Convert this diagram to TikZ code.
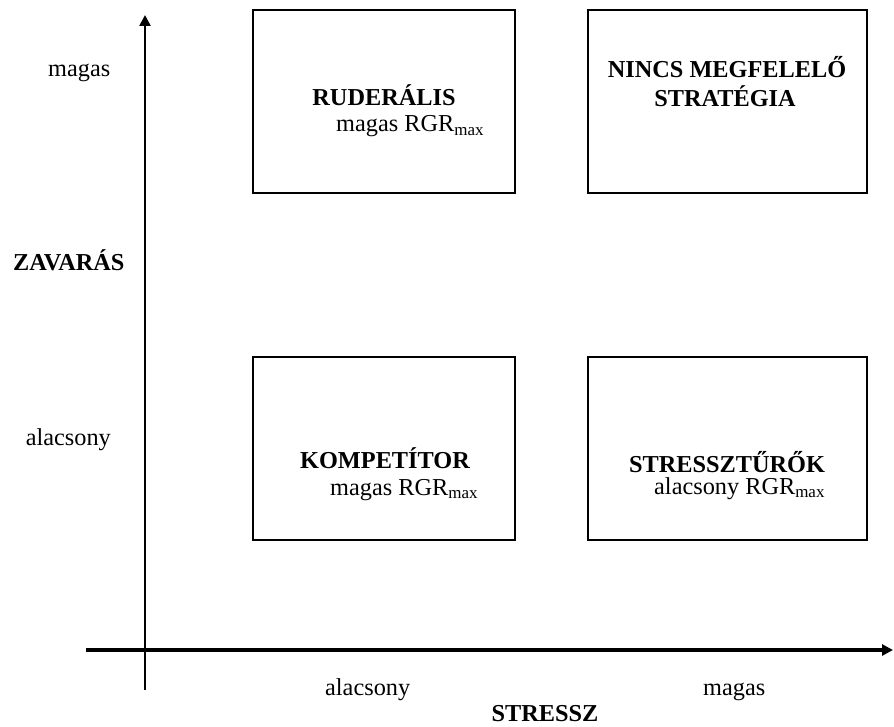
\documentclass[tikz,border=0pt]{standalone}
\usepackage{fontspec}
\setmainfont{Liberation Serif}
\usetikzlibrary{arrows.meta}

\begin{document}
\begin{tikzpicture}[x=1pt,y=-1pt,
  every node/.style={font=\fontsize{24.3}{29}\selectfont,inner sep=0pt},
  quad/.style={rectangle,draw,line width=2pt,minimum width=262pt,minimum height=183pt},
  title/.style={font=\fontsize{24.3}{29}\selectfont\bfseries,anchor=base},
  sub/.style={anchor=base west},
  axis/.style={-{Triangle[length=11pt,width=11pt]}}
]
\useasboundingbox (0,0) rectangle (894,727);
% quadrants
\node[quad] (rud) at (384,101.5) {};
\node[quad,minimum width=279pt] (nin) at (727,101.5) {};
\node[quad] (kom) at (384,448.5) {};
\node[quad,minimum width=279pt] (stt) at (727,448.5) {};
\node[title] (rudt) at (384,106) {RUDERÁLIS};
\node[sub] (rudr) at (336,132) {magas RGR\textsubscript{max}};
\node[title] (nint) at (727,78) {NINCS MEGFELELŐ};
\node[title] (nins) at (725,107) {STRATÉGIA};
\node[title] (komt) at (385,468) {KOMPETÍTOR};
\node[sub] (komr) at (330,495) {magas RGR\textsubscript{max}};
\node[title] (sttt) at (727,472) {STRESSZTŰRŐK};
\node[sub] (sttr) at (654,494) {alacsony RGR\textsubscript{max}};
% axes
\coordinate (y0) at (145,690);
\coordinate (y1) at (145,15);
\coordinate (x0) at (86,650);
\coordinate (x1) at (893,650);
\draw[axis,line width=2.5pt] (y0) -- (y1);
\draw[axis,line width=4pt] (x0) -- (x1);
\node[anchor=base west] (zmag) at (48,77) {magas};
\node[title,anchor=base west] (zav) at (13,271) {ZAVARÁS};
\node[anchor=base east] (zala) at (111,445) {alacsony};
\node[anchor=base west] (sala) at (325,695) {alacsony};
\node[anchor=base west] (smag) at (703,695) {magas};
\node[title] (strs) at (545,721) {STRESSZ};
\end{tikzpicture}
\end{document}
